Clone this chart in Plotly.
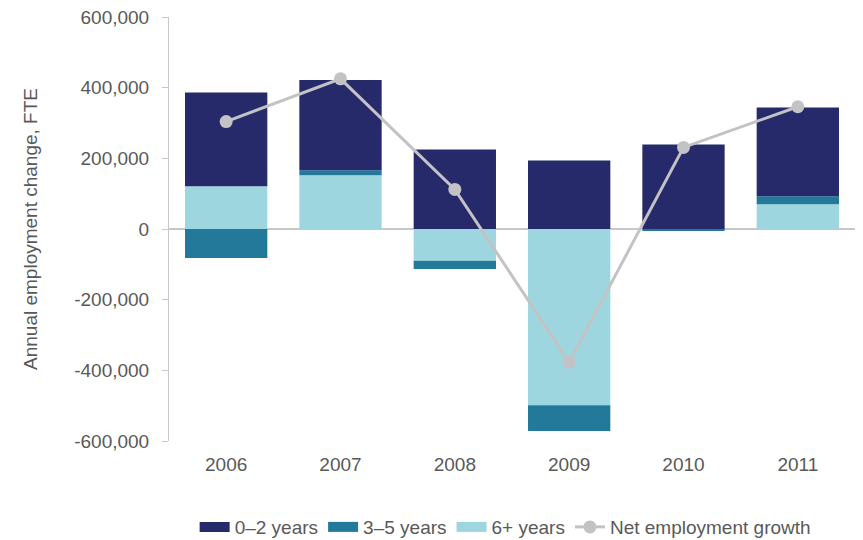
import plotly.graph_objects as go

years = ["2006", "2007", "2008", "2009", "2010", "2011"]
yrs_0_2 = [265000, 256000, 225000, 194000, 239000, 251000]
yrs_3_5 = [-82000, 14000, -23000, -73000, -3000, 23000]
yrs_6p = [121000, 152000, -90000, -499000, -2000, 70000]
net = [304000, 425000, 112000, -377000, 231000, 346000]
y_ticks = [-600000, -400000, -200000, 0, 200000, 400000, 600000]
y_tick_labels = ["-600,000", "-400,000", "-200,000", "0", "200,000", "400,000", "600,000"]

c02 = "#262a6b"
c35 = "#22799a"
c6p = "#9dd6df"
cnet = "#c3c3c6"

fig = go.Figure()
fig.add_trace(go.Bar(x=years, y=yrs_6p, name="6+ years", marker=dict(color=c6p, line=dict(width=0)), showlegend=False))
fig.add_trace(go.Bar(x=years, y=yrs_3_5, name="3–5 years", marker=dict(color=c35, line=dict(width=0)), showlegend=False))
fig.add_trace(go.Bar(x=years, y=yrs_0_2, name="0–2 years", marker=dict(color=c02, line=dict(width=0)), showlegend=False))
fig.add_trace(go.Scatter(x=years, y=net, name="Net employment growth", mode="lines+markers",
                         line=dict(color=cnet, width=3), marker=dict(color=cnet, size=13), legendrank=4))

# legend-only entries drawn as wide rectangles
for nm, col, rk in [("0–2 years", c02, 1), ("3–5 years", c35, 2), ("6+ years", c6p, 3)]:
    fig.add_trace(go.Scatter(x=[None], y=[None], mode="lines", name=nm,
                             line=dict(color=col, width=10), legendrank=rk))

font = "Liberation Sans, Arial, sans-serif"
grey = "#595959"
fig.update_layout(
    width=863, height=540,
    barmode="relative", bargap=0.28,
    plot_bgcolor="white", paper_bgcolor="white",
    margin=dict(l=169, r=8, t=17, b=99, autoexpand=False),
    font=dict(family=font, color=grey, size=19),
    showlegend=True,
    legend=dict(orientation="h", x=0.49, xanchor="center", yref="container", y=0.024, yanchor="middle",
                font=dict(size=19, color=grey), tracegroupgap=0, itemwidth=30),
    xaxis=dict(showline=False, ticks="", showgrid=False, ticklabelstandoff=10, automargin=False,
               tickfont=dict(size=19, color=grey)),
    yaxis=dict(range=[-600000, 600000], tickvals=y_ticks, ticktext=y_tick_labels, showgrid=False,
               showline=True, linecolor="#c8c8c8", linewidth=1, ticks="outside", ticklen=6,
               tickcolor="#c8c8c8", zeroline=True, zerolinecolor="#c8c8c8", zerolinewidth=1.5,
               ticklabelstandoff=9, automargin=False,
               tickfont=dict(size=19, color=grey),
               title=dict(text="Annual employment change, FTE", font=dict(size=19, color=grey), standoff=31)),
)

fig.write_html("out.html")
